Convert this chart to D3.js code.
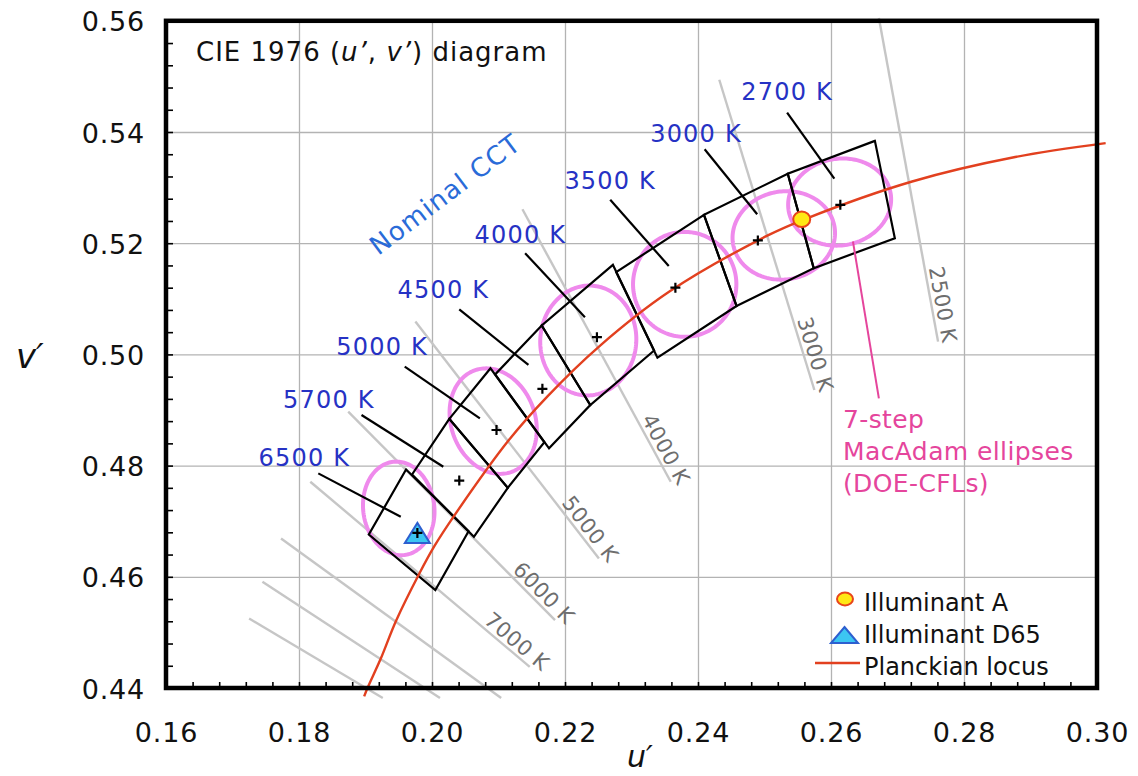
<!DOCTYPE html>
<html><head><meta charset="utf-8">
<script src="https://cdn.jsdelivr.net/npm/d3@7"></script>
<style>
body{margin:0;background:#fff;}
svg{display:block;font-family:"DejaVu Sans",sans-serif;}
</style></head><body>
<svg id="chart" width="1138" height="776"></svg>
<script>
// ---------- data ----------
const uTicks = [0.16, 0.18, 0.20, 0.22, 0.24, 0.26, 0.28, 0.30];
const uTickLabels = ["0.16", "0.18", "0.20", "0.22", "0.24", "0.26", "0.28", "0.30"];
const vTicks = [0.44, 0.46, 0.48, 0.50, 0.52, 0.54, 0.56];
const vTickLabels = ["0.44", "0.46", "0.48", "0.50", "0.52", "0.54", "0.56"];

// Planckian locus (u', v')
const locusU = [0.1898, 0.1903, 0.1923, 0.1946, 0.1981, 0.2004, 0.2034, 0.2115, 0.2174, 0.2252, 0.2357, 0.2505, 0.2560, 0.2722, 0.2877, 0.3013];
const locusV = [0.4385, 0.4400, 0.4453, 0.4521, 0.4606, 0.4656, 0.4711, 0.4845, 0.4925, 0.5015, 0.5113, 0.5214, 0.5243, 0.5311, 0.5355, 0.5380];

// Isotherm (iso-CCT) lines
const isoLabels = ["2500 K", "3000 K", "4000 K", "5000 K", "6000 K", "7000 K", "", "", ""];
const isoU1 = [0.2672, 0.2432, 0.2136, 0.1975, 0.1874, 0.1817, 0.1773, 0.1745, 0.1725];
const isoV1 = [0.5605, 0.5494, 0.5261, 0.5059, 0.4897, 0.4771, 0.4669, 0.4591, 0.4525];
const isoU2 = [0.2761, 0.2575, 0.2359, 0.2251, 0.2185, 0.2147, 0.2104, 0.2012, 0.1926];
const isoV2 = [0.5023, 0.4936, 0.4771, 0.4633, 0.4522, 0.4438, 0.4382, 0.4382, 0.4382];

// Nominal CCT quadrangles (4 corners each)
const quadNames = ["2700 K", "3000 K", "3500 K", "4000 K", "4500 K", "5000 K", "5700 K", "6500 K"];
const quadU = [
  [0.2666, 0.2535, 0.2574, 0.2696],
  [0.2535, 0.2409, 0.2458, 0.2574],
  [0.2409, 0.2277, 0.2339, 0.2458],
  [0.2272, 0.2165, 0.2238, 0.2334],
  [0.2165, 0.2095, 0.2176, 0.2238],
  [0.2088, 0.2026, 0.2114, 0.2169],
  [0.2026, 0.1970, 0.2063, 0.2114],
  [0.1961, 0.1905, 0.2005, 0.2055]
];
const quadV = [
  [0.5384, 0.5325, 0.5155, 0.5209],
  [0.5325, 0.5251, 0.5087, 0.5155],
  [0.5251, 0.5148, 0.4994, 0.5087],
  [0.5161, 0.5052, 0.4909, 0.5007],
  [0.5052, 0.4964, 0.4831, 0.4909],
  [0.4975, 0.4884, 0.4760, 0.4842],
  [0.4884, 0.4784, 0.4672, 0.4760],
  [0.4793, 0.4676, 0.4576, 0.4682]
];
const centerU = [0.2614, 0.2490, 0.2366, 0.2248, 0.2166, 0.2097, 0.2041, 0.1978];
const centerV = [0.5269, 0.5205, 0.5120, 0.5031, 0.4938, 0.4864, 0.4773, 0.4678];

// leader lines and label anchors for the nominal CCT labels
const leaderU1 = [0.2534, 0.2410, 0.2268, 0.2140, 0.2041, 0.1959, 0.1894, 0.1829];
const leaderV1 = [0.5435, 0.5369, 0.5278, 0.5182, 0.5081, 0.4978, 0.4891, 0.4786];
const leaderU2 = [0.2605, 0.2489, 0.2356, 0.2230, 0.2145, 0.2072, 0.2017, 0.1953];
const leaderV2 = [0.5316, 0.5252, 0.5159, 0.5067, 0.4981, 0.4885, 0.4798, 0.4708];
const labelU = [0.2534, 0.2397, 0.2268, 0.2133, 0.2017, 0.1925, 0.1845, 0.1808];
const labelV = [0.5458, 0.5382, 0.5297, 0.5200, 0.5101, 0.4999, 0.4904, 0.4799];

// 7-step MacAdam ellipses: centre and two conjugate semi-axes (u', v' units)
const ellipseNames = ["6500 K", "5000 K", "4100 K", "3500 K", "3000 K", "2700 K"];
const ellipseU = [0.1950, 0.2092, 0.2235, 0.2380, 0.2529, 0.2613];
const ellipseV = [0.4723, 0.4880, 0.5025, 0.5126, 0.5214, 0.5274];
const axis1U = [-0.00086, -0.00278, 0.00072, 0.00000, -0.00115, -0.00113];
const axis1V = [0.00838, 0.00913, 0.00985, 0.00944, 0.00779, 0.00767];
const axis2U = [0.00531, 0.00594, 0.00719, 0.00777, 0.00762, 0.00766];
const axis2V = [0.00078, 0.00259, -0.00075, 0.00000, 0.00161, 0.00162];

// illuminants
const illumA = {u: 0.2556, v: 0.5243};
const illumD65 = {u: 0.1978, v: 0.4679};

// annotations
const ellipseNoteLines = ["7-step", "MacAdam ellipses", "(DOE-CFLs)"];
const ellipseNoteU = 0.2618, ellipseNoteV = 0.4868;
const ellipseNoteLineU = [0.2633, 0.2672], ellipseNoteLineV = [0.5203, 0.4921];
const nominalU = 0.1919, nominalV = 0.5177;
const legendLabels = ["Illuminant A", "Illuminant D65", "Planckian locus"];

// ---------- drawing ----------
const svg = d3.select("#chart");
const x = d3.scaleLinear().domain([0.16, 0.30]).range([166, 1097]);
const y = d3.scaleLinear().domain([0.44, 0.56]).range([688, 20.8]);
const plotW = x(0.30) - x(0.16), plotH = y(0.44) - y(0.56);

// gridlines
svg.append("g").attr("transform", `translate(0,${y(0.44)})`)
  .call(d3.axisBottom(x).tickValues(uTicks.slice(1, -1)).tickSize(-plotH).tickFormat(""))
  .call(g => g.select(".domain").remove())
  .selectAll("line").attr("stroke", "#b3b3b3").attr("stroke-width", 1.3);
svg.append("g").attr("transform", `translate(${x(0.16)},0)`)
  .call(d3.axisLeft(y).tickValues(vTicks.slice(1, -1)).tickSize(-plotW).tickFormat(""))
  .call(g => g.select(".domain").remove())
  .selectAll("line").attr("stroke", "#b3b3b3").attr("stroke-width", 1.3);

// isotherms
const isoIdx = d3.range(isoU1.length);
const gIso = svg.append("g");
gIso.selectAll("line").data(isoIdx).join("line")
  .attr("x1", i => x(isoU1[i])).attr("y1", i => y(isoV1[i]))
  .attr("x2", i => x(isoU2[i])).attr("y2", i => y(isoV2[i]))
  .attr("stroke", "#c6c6c6").attr("stroke-width", 2.4);
function isoAngle(i) {
  return Math.atan2(y(isoV2[i]) - y(isoV1[i]), x(isoU2[i]) - x(isoU1[i]));
}
gIso.selectAll("text").data(isoIdx.filter(i => isoLabels[i] !== "")).join("text")
  .attr("transform", i => `translate(${x(isoU2[i])},${y(isoV2[i])}) rotate(${isoAngle(i) * 180 / Math.PI})`)
  .attr("dx", i => 16 * Math.cos(isoAngle(i)))
  .attr("dy", -4).attr("text-anchor", "end")
  .attr("font-size", 21).attr("letter-spacing", 0.5).attr("fill", "#6e6e6e")
  .text(i => isoLabels[i]);

// MacAdam ellipses
const tSteps = d3.range(0, 2 * Math.PI + 0.001, Math.PI / 90);
const ellLine = d3.line().x(p => x(p[0])).y(p => y(p[1]));
svg.append("g").selectAll("path").data(d3.range(ellipseU.length)).join("path")
  .attr("d", i => ellLine(tSteps.map(t => [
    ellipseU[i] + axis1U[i] * Math.sin(t) + axis2U[i] * Math.cos(t),
    ellipseV[i] + axis1V[i] * Math.sin(t) + axis2V[i] * Math.cos(t)]) ) + "Z")
  .attr("fill", "none").attr("stroke", "#ef8aec").attr("stroke-width", 4);

// quadrangles
svg.append("g").selectAll("path").data(d3.range(quadU.length)).join("path")
  .attr("d", i => ellLine(quadU[i].map((u, k) => [u, quadV[i][k]])) + "Z")
  .attr("fill", "none").attr("stroke", "#000").attr("stroke-width", 2.2).attr("stroke-linejoin", "miter");

// Planckian locus
const locusLine = d3.line().x(p => x(p[0])).y(p => y(p[1])).curve(d3.curveCatmullRom.alpha(0.5));
svg.append("path").attr("d", locusLine(locusU.map((u, i) => [u, locusV[i]])))
  .attr("fill", "none").attr("stroke", "#e2401f").attr("stroke-width", 2.4);

// ellipse annotation
svg.append("line")
  .attr("x1", x(ellipseNoteLineU[0])).attr("y1", y(ellipseNoteLineV[0]))
  .attr("x2", x(ellipseNoteLineU[1])).attr("y2", y(ellipseNoteLineV[1]))
  .attr("stroke", "#e5459c").attr("stroke-width", 2);
svg.append("text").attr("x", x(ellipseNoteU)).attr("y", y(ellipseNoteV))
  .attr("font-size", 25).attr("letter-spacing", 0.4).attr("fill", "#e5459c")
  .selectAll("tspan").data(ellipseNoteLines).join("tspan")
  .attr("x", x(ellipseNoteU)).attr("dy", (d, i) => i === 0 ? 0 : 32).text(d => d);

// leaders and nominal CCT labels
const qIdx = d3.range(quadNames.length);
svg.append("g").selectAll("line").data(qIdx).join("line")
  .attr("x1", i => x(leaderU1[i])).attr("y1", i => y(leaderV1[i]))
  .attr("x2", i => x(leaderU2[i])).attr("y2", i => y(leaderV2[i]))
  .attr("stroke", "#000").attr("stroke-width", 2.2);
svg.append("g").selectAll("text").data(qIdx).join("text")
  .attr("x", i => x(labelU[i])).attr("y", i => y(labelV[i]))
  .attr("text-anchor", "middle").attr("font-size", 24).attr("letter-spacing", 1.2)
  .attr("fill", "#2632c4").text(i => quadNames[i]);
svg.append("text")
  .attr("transform", `translate(${x(nominalU)},${y(nominalV)}) rotate(-37)`)
  .attr("font-size", 26).attr("letter-spacing", 1.2).attr("fill", "#2a6bd8").text("Nominal CCT");

// centre crosses
svg.append("g").selectAll("path").data(qIdx).join("path")
  .attr("transform", i => `translate(${x(centerU[i])},${y(centerV[i])})`)
  .attr("d", "M-5,0H5M0,-5V5").attr("stroke", "#000").attr("stroke-width", 2.2);

// illuminant markers
function triPath(w, h) { return `M0,${-h / 2}L${w / 2},${h / 2}L${-w / 2},${h / 2}Z`; }
svg.append("path").attr("transform", `translate(${x(illumD65.u)},${y(illumD65.v)})`)
  .attr("d", triPath(25, 20)).attr("fill", "#3cc6f2").attr("stroke", "#2d5fd0").attr("stroke-width", 2);
svg.append("path").attr("transform", `translate(${x(illumD65.u)},${y(illumD65.v)})`)
  .attr("d", "M-5,0H5M0,-5V5").attr("stroke", "#000").attr("stroke-width", 2.2);
svg.append("ellipse").attr("cx", x(illumA.u)).attr("cy", y(illumA.v)).attr("rx", 8.5).attr("ry", 7.8)
  .attr("fill", "#ffe815").attr("stroke", "#e8441a").attr("stroke-width", 2);

// frame
svg.append("rect").attr("x", x(0.16)).attr("y", y(0.56)).attr("width", plotW).attr("height", plotH)
  .attr("fill", "none").attr("stroke", "#000").attr("stroke-width", 4.5);

// minor ticks (inward)
const minorU = d3.range(0.164, 0.2995, 0.004);
const minorV = d3.range(0.444, 0.5595, 0.004);
svg.append("g").attr("transform", `translate(0,${y(0.44)})`)
  .call(d3.axisBottom(x).tickValues(minorU).tickSize(-6).tickFormat(""))
  .call(g => g.select(".domain").remove())
  .selectAll("line").attr("stroke", "#000").attr("stroke-width", 1.6);
svg.append("g").attr("transform", `translate(${x(0.16)},0)`)
  .call(d3.axisLeft(y).tickValues(minorV).tickSize(-7).tickFormat(""))
  .call(g => g.select(".domain").remove())
  .selectAll("line").attr("stroke", "#000").attr("stroke-width", 1.6);

// tick labels
const gx = svg.append("g").attr("transform", `translate(0,${y(0.44)})`)
  .call(d3.axisBottom(x).tickValues(uTicks).tickSize(0).tickFormat((d, i) => uTickLabels[i]));
gx.select(".domain").remove();
gx.selectAll("text").attr("y", 54).attr("dy", 0).attr("font-size", 27).attr("letter-spacing", 0.8)
  .attr("font-family", "DejaVu Sans").attr("fill", "#111");
const gy = svg.append("g").attr("transform", `translate(${x(0.16)},0)`)
  .call(d3.axisLeft(y).tickValues(vTicks).tickSize(0).tickFormat((d, i) => vTickLabels[i]));
gy.select(".domain").remove();
gy.selectAll("text").attr("x", -21).attr("dy", 10).attr("font-size", 27).attr("letter-spacing", 0.8)
  .attr("font-family", "DejaVu Sans").attr("fill", "#111");

// axis titles
svg.append("text").attr("x", 16).attr("y", 368).attr("font-size", 34).attr("font-style", "italic")
  .attr("fill", "#111").text("v\u2032");
svg.append("text").attr("x", 640).attr("y", 767).attr("text-anchor", "middle").attr("font-size", 30)
  .attr("font-style", "italic").attr("fill", "#111").text("u\u2032");

// title
const title = svg.append("text").attr("x", 196).attr("y", 61).attr("font-size", 26)
  .attr("letter-spacing", 1).attr("fill", "#111");
title.append("tspan").text("CIE 1976 (");
title.append("tspan").attr("font-style", "italic").text("u\u2019");
title.append("tspan").text(", ");
title.append("tspan").attr("font-style", "italic").text("v\u2019");
title.append("tspan").text(") diagram");

// legend
const lg = svg.append("g");
lg.append("ellipse").attr("cx", 845).attr("cy", 599).attr("rx", 8).attr("ry", 6.5)
  .attr("fill", "#ffe815").attr("stroke", "#e8441a").attr("stroke-width", 2);
lg.append("path").attr("transform", "translate(844.5,635)").attr("d", triPath(27, 16))
  .attr("fill", "#3cc6f2").attr("stroke", "#2d5fd0").attr("stroke-width", 2);
lg.append("line").attr("x1", 815).attr("x2", 860).attr("y1", 663).attr("y2", 663)
  .attr("stroke", "#e2401f").attr("stroke-width", 2.4);
lg.selectAll("text").data(legendLabels).join("text")
  .attr("x", 864).attr("y", (d, i) => 611 + i * 32).attr("font-size", 24).attr("fill", "#111").text(d => d);
</script></body></html>
